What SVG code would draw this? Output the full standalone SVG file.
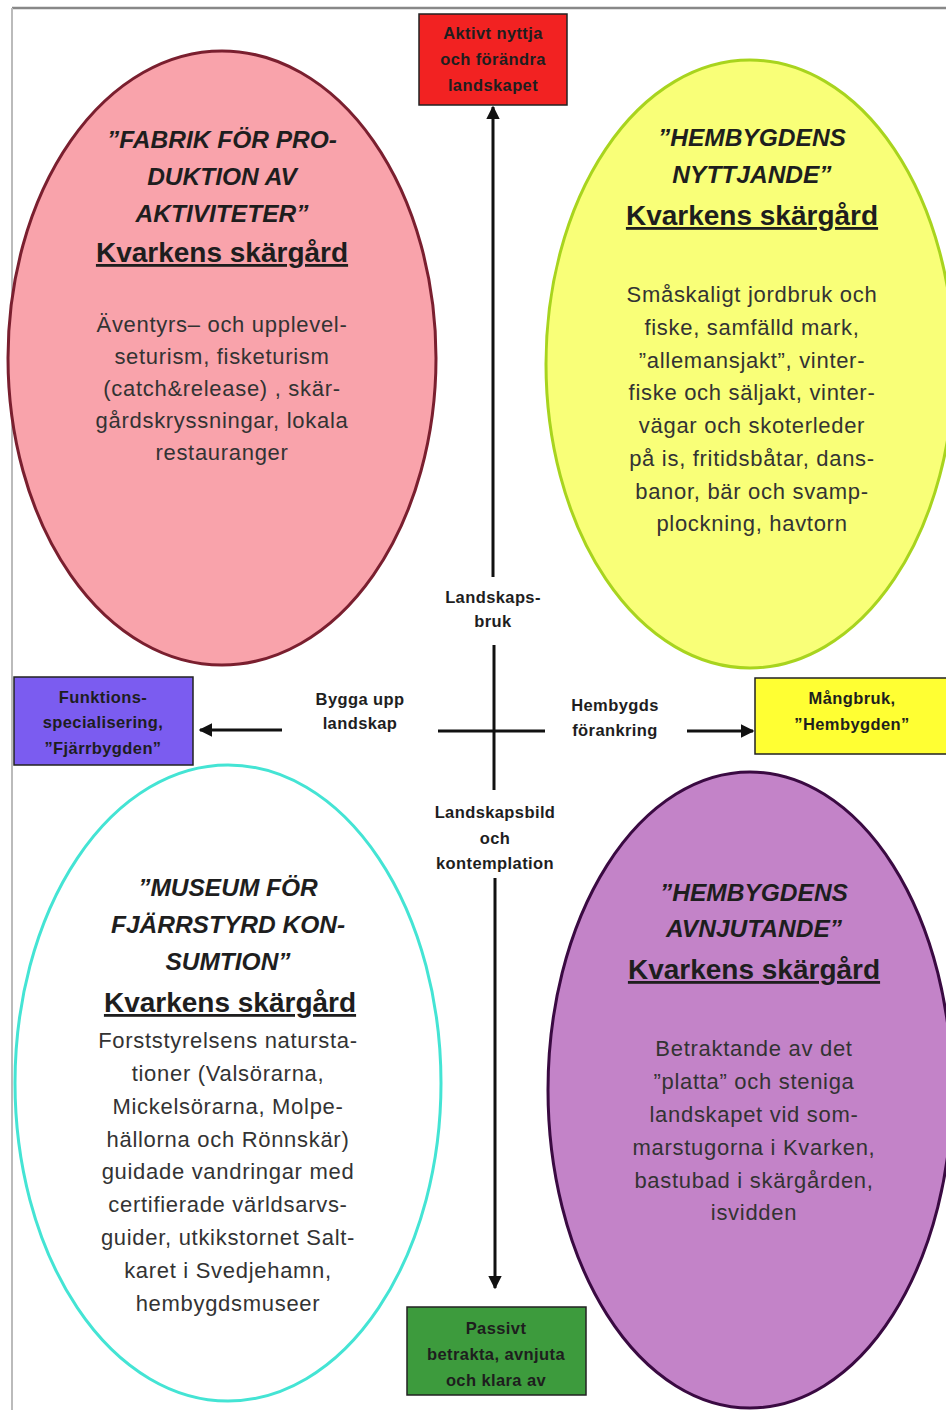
<svg xmlns="http://www.w3.org/2000/svg" width="946" height="1410" viewBox="0 0 946 1410">
<defs>
<marker id="ah" viewBox="0 0 10 10" refX="9" refY="5" markerWidth="4.5" markerHeight="4.5" orient="auto" markerUnits="strokeWidth">
<path d="M0,0 L10,5 L0,10 Z" fill="#111"/>
</marker>
</defs>
<style>
text{font-family:"Liberation Sans",Arial,sans-serif;fill:#1e1e1e;text-anchor:middle}
.ttl{font-size:24.5px;font-weight:bold;font-style:italic}
.kv{font-size:28px;font-weight:bold;text-decoration:underline}
.body{font-size:22px;fill:#333;letter-spacing:0.7px}
.lab{font-size:16.5px;font-weight:bold;letter-spacing:0.4px}
.box{stroke:#222;stroke-width:1.5}
.ln{stroke:#111;stroke-width:3;fill:none}
</style>
<rect width="946" height="1410" fill="#fff"/>
<line x1="12" y1="8" x2="946" y2="8" stroke="#888" stroke-width="2.5"/>
<line x1="12" y1="8" x2="12" y2="1410" stroke="#bbb" stroke-width="2"/>

<g id="ellipse-fabrik">
<ellipse cx="222" cy="358" rx="214" ry="307" fill="#f9a3ab" stroke="#7a1f2f" stroke-width="3"/>
<text class="ttl" x="222" y="148">”FABRIK FÖR PRO-</text>
<text class="ttl" x="222" y="185">DUKTION AV</text>
<text class="ttl" x="222" y="222">AKTIVITETER”</text>
<text class="kv" x="222" y="262">Kvarkens skärgård</text>
<text class="body" x="222" y="332">Äventyrs– och upplevel-</text>
<text class="body" x="222" y="364">seturism, fisketurism</text>
<text class="body" x="222" y="396">(catch&amp;release) , skär-</text>
<text class="body" x="222" y="428">gårdskryssningar, lokala</text>
<text class="body" x="222" y="460">restauranger</text>
</g>

<g id="ellipse-nyttjande">
<ellipse cx="750" cy="364" rx="204" ry="304" fill="#f9ff78" stroke="#a8d41e" stroke-width="3"/>
<text class="ttl" x="752" y="146">”HEMBYGDENS</text>
<text class="ttl" x="752" y="183">NYTTJANDE”</text>
<text class="kv" x="752" y="225">Kvarkens skärgård</text>
<text class="body" x="752" y="302">Småskaligt jordbruk och</text>
<text class="body" x="752" y="335">fiske,  samfälld mark,</text>
<text class="body" x="752" y="368">”allemansjakt”,  vinter-</text>
<text class="body" x="752" y="400">fiske och säljakt, vinter-</text>
<text class="body" x="752" y="433">vägar och skoterleder</text>
<text class="body" x="752" y="466">på is, fritidsbåtar, dans-</text>
<text class="body" x="752" y="499">banor, bär och  svamp-</text>
<text class="body" x="752" y="531">plockning, havtorn</text>
</g>

<g id="ellipse-museum">
<ellipse cx="228" cy="1083" rx="213" ry="318" fill="#fff" stroke="#44e4d4" stroke-width="3"/>
<text class="ttl" x="228" y="896">”MUSEUM FÖR</text>
<text class="ttl" x="228" y="933">FJÄRRSTYRD KON-</text>
<text class="ttl" x="228" y="970">SUMTION”</text>
<text class="kv" x="230" y="1012">Kvarkens skärgård</text>
<text class="body" x="228" y="1048">Forststyrelsens natursta-</text>
<text class="body" x="228" y="1081">tioner (Valsörarna,</text>
<text class="body" x="228" y="1114">Mickelsörarna, Molpe-</text>
<text class="body" x="228" y="1147">hällorna och Rönnskär)</text>
<text class="body" x="228" y="1179">guidade vandringar med</text>
<text class="body" x="228" y="1212">certifierade världsarvs-</text>
<text class="body" x="228" y="1245">guider, utkikstornet Salt-</text>
<text class="body" x="228" y="1278">karet i Svedjehamn,</text>
<text class="body" x="228" y="1311">hembygdsmuseer</text>
</g>

<g id="ellipse-avnjutande">
<ellipse cx="750" cy="1090" rx="202" ry="318" fill="#c383c8" stroke="#3a0a42" stroke-width="3"/>
<text class="ttl" x="754" y="901">”HEMBYGDENS</text>
<text class="ttl" x="754" y="937">AVNJUTANDE”</text>
<text class="kv" x="754" y="979">Kvarkens skärgård</text>
<text class="body" x="754" y="1056">Betraktande av det</text>
<text class="body" x="754" y="1089">”platta” och steniga</text>
<text class="body" x="754" y="1122">landskapet vid som-</text>
<text class="body" x="754" y="1155">marstugorna i Kvarken,</text>
<text class="body" x="754" y="1188">bastubad i skärgården,</text>
<text class="body" x="754" y="1220">isvidden</text>
</g>

<g id="box-aktivt">
<rect class="box" x="419" y="14" width="148" height="91" fill="#f22222"/>
<text class="lab" x="493" y="39">Aktivt nyttja</text>
<text class="lab" x="493" y="65">och förändra</text>
<text class="lab" x="493" y="91">landskapet</text>
</g>

<g id="box-funktion">
<rect class="box" x="14" y="677" width="179" height="88" fill="#7b5cf0"/>
<text class="lab" x="103" y="703">Funktions-</text>
<text class="lab" x="103" y="728">specialisering,</text>
<text class="lab" x="103" y="754">”Fjärrbygden”</text>
</g>

<g id="box-mangbruk">
<rect class="box" x="755" y="678" width="195" height="76" fill="#ffff33"/>
<text class="lab" x="852" y="704">Mångbruk,</text>
<text class="lab" x="852" y="730">”Hembygden”</text>
</g>

<g id="box-passivt">
<rect class="box" x="407" y="1307" width="179" height="88" fill="#3d9b3d"/>
<text class="lab" x="496" y="1334">Passivt</text>
<text class="lab" x="496" y="1360">betrakta, avnjuta</text>
<text class="lab" x="496" y="1386">och klara av</text>
</g>

<g id="labels">
<text class="lab" x="493" y="603">Landskaps-</text>
<text class="lab" x="493" y="627">bruk</text>
<text class="lab" x="495" y="818">Landskapsbild</text>
<text class="lab" x="495" y="844">och</text>
<text class="lab" x="495" y="869">kontemplation</text>
<text class="lab" x="360" y="705">Bygga upp</text>
<text class="lab" x="360" y="729">landskap</text>
<text class="lab" x="615" y="711">Hembygds</text>
<text class="lab" x="615" y="736">förankring</text>
</g>

<g id="connectors">
<line class="ln" x1="493" y1="577" x2="493" y2="107" marker-end="url(#ah)"/>
<line class="ln" x1="494" y1="645" x2="494" y2="790"/>
<line class="ln" x1="438" y1="731" x2="545" y2="731"/>
<line class="ln" x1="495" y1="878" x2="495" y2="1288" marker-end="url(#ah)"/>
<line class="ln" x1="282" y1="730" x2="200" y2="730" marker-end="url(#ah)"/>
<line class="ln" x1="687" y1="731" x2="753" y2="731" marker-end="url(#ah)"/>
</g>
</svg>
